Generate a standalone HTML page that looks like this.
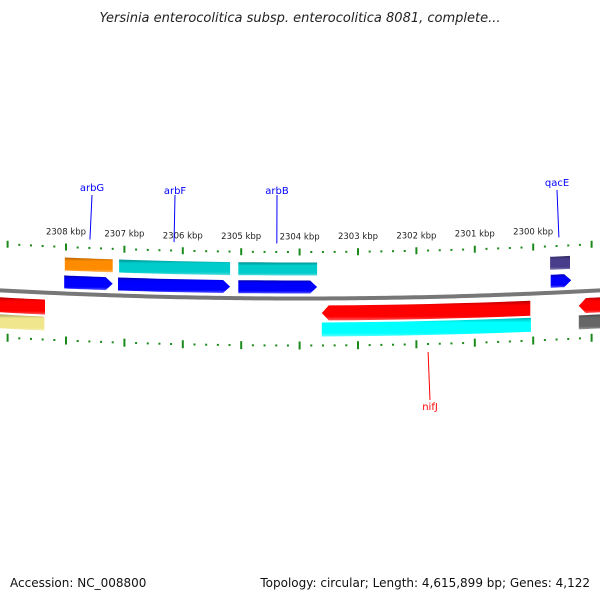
<!DOCTYPE html>
<html><head><meta charset="utf-8"><style>
body{margin:0;background:#fff;}
svg{display:block;font-family:"DejaVu Sans","Liberation Sans",sans-serif;}
</style></head><body>
<svg id="map" width="600" height="600" viewBox="0 0 600 600">
<defs></defs>
<text x="300" y="22" text-anchor="middle" font-size="13" font-style="italic" fill="#222">Yersinia enterocolitica subsp. enterocolitica 8081, complete...</text>
<text x="10" y="587" font-size="12" fill="#111">Accession: NC_008800</text>
<text x="590" y="587" text-anchor="end" font-size="12" fill="#111">Topology: circular; Length: 4,615,899 bp; Genes: 4,122</text>
<g id="layer"></g>
</svg>
<script>
// data (kbp)
const tickKbp=[2309,2308,2307,2306,2305,2304,2303,2302,2301,2300,2299];
const tickLabels=["","2308 kbp","2307 kbp","2306 kbp","2305 kbp","2304 kbp","2303 kbp","2302 kbp","2301 kbp","2300 kbp",""];
const featNames=["orange-cds","teal-1","teal-2","purple-cds","blue-arbG","blue-arbF","blue-arbB","blue-qacE","red-left","red-nifJ","red-right","khaki-left","cyan-nifJ","gray-right"];
const featStart=[2308.02,2307.09,2305.05,2299.71,2308.03,2307.11,2305.05,2299.70,2309.2,2303.62,2299.22,2309.2,2303.62,2299.22];
const featEnd=[2307.20,2305.19,2303.70,2299.37,2307.20,2305.19,2303.70,2299.35,2308.36,2300.05,2298.8,2308.37,2300.04,2298.8];
const featColor=["#ff8c00","#00cccc","#00cccc","#483d8b","#0000ff","#0000ff","#0000ff","#0000ff","#ff0000","#ff0000","#ff0000","#f0e68c","#00ffff","#666666"];
const featRow=[0,0,0,0,1,1,1,1,2,2,2,3,3,3];
const featDir=[0,0,0,0,1,1,1,1,0,-1,-1,0,0,0];
const labelNames=["arbG","arbF","arbB","qacE","nifJ"];
const labelKbp=[2307.59,2306.15,2304.39,2299.56,2301.80];
const labelSide=[-1,-1,-1,-1,1];
const labelX=[92,175,277,557,430];

const X0=66, PX=58.4;
function xOf(k){return X0+(2308-k)*PX;}
function by(x){return 298.5-(x-300)*(x-300)/11000;}
const rows=[[-36,-23],[-18,-5],[7,22],[24,38]];
const svg=document.getElementById('map'), L=document.getElementById('layer'), NS="http://www.w3.org/2000/svg";
function mk(t,a){const e=document.createElementNS(NS,t);for(const k in a)e.setAttribute(k,a[k]);L.appendChild(e);return e;}
function shade(c,f){const n=parseInt(c.slice(1),16);let r=n>>16,g=(n>>8)&255,b=n&255;
 const m=v=>Math.max(0,Math.min(255,Math.round(f<0?v*(1+f):v+(255-v)*f)));return `rgb(${m(r)},${m(g)},${m(b)})`;}
let bp="";for(let x=-5;x<=605;x+=5)bp+=(x==-5?"M":"L")+x+","+by(x).toFixed(2);
const bb=mk('path',{d:bp,stroke:"#777",'stroke-width':4,fill:"none"});


for(let k=2309;k>=2298.8;k-=0.2){
 const kk=Math.round(k*10)/10, x=xOf(kk); if(x<0||x>600)continue;
 const major=Math.abs(kk-Math.round(kk))<0.01;
 const y=by(x);
 [[-50,-43],[43,51]].forEach((o,i)=>{
  const t=mk('line',major?{x1:x,x2:x,y1:y+o[0],y2:y+o[1]}:{x1:x,x2:x,y1:y+(o[0]+o[1])/2-1,y2:y+(o[0]+o[1])/2+1});
  t.setAttribute('stroke','#1a8a1a');t.setAttribute('stroke-width',2);
  
  
 });
}
tickKbp.forEach((k,i)=>{if(!tickLabels[i])return;const x=xOf(k);
 const t=mk('text',{x:x,y:by(x)-59,'text-anchor':'middle','font-size':8.5,fill:'#222'});t.textContent=tickLabels[i];
 
 });
featNames.forEach((n,i)=>{
 let x1=xOf(featStart[i]),x2=xOf(featEnd[i]);const r=rows[featRow[i]];
 const gid='g'+i;const g=document.createElementNS(NS,'linearGradient');g.setAttribute('id',gid);g.setAttribute('x1',0);g.setAttribute('y1',0);g.setAttribute('x2',0);g.setAttribute('y2',1);
 [[0,shade(featColor[i],-0.3)],[0.25,featColor[i]],[0.8,featColor[i]],[1,shade(featColor[i],0.35)]].forEach(s=>{const st=document.createElementNS(NS,'stop');st.setAttribute('offset',s[0]);st.setAttribute('stop-color',s[1]);g.appendChild(st);});
 svg.querySelector('defs').appendChild(g);
 const ah=7,mid=(r[0]+r[1])/2;let pts=[];
 const a=featDir[i]<0?x1+ah:x1, b=featDir[i]>0?x2-ah:x2;
 if(featDir[i]<0)pts.push([x1,by(x1)+mid]);
 for(let s=0;s<=8;s++){const x=a+(b-a)*s/8;pts.push([x,by(x)+r[0]]);}
 if(featDir[i]>0)pts.push([x2,by(x2)+mid]);
 for(let s=8;s>=0;s--){const x=a+(b-a)*s/8;pts.push([x,by(x)+r[1]]);}
 const p=mk('polygon',{points:pts.map(q=>q[0].toFixed(1)+','+q[1].toFixed(1)).join(' '),fill:`url(#${gid})`});
 
 
});
labelNames.forEach((n,i)=>{const x=xOf(labelKbp[i]);const col=labelSide[i]<0?'#0000ff':'#ff0000';
 let y1,y2,ty;
 if(labelSide[i]<0){y1=by(x)-55;y2=i==3?190:195;ty=i==3?186:i==0?191:194;}else{y1=by(x)+55;y2=400;ty=410;}
 const l=mk('line',{x1:x,y1:y1,x2:labelX[i],y2:y2,stroke:col,'stroke-width':1});
 
 
 const t=mk('text',{x:labelX[i],y:ty,'text-anchor':'middle','font-size':10,fill:col});t.textContent=n;
 
 
});
</script>
</body></html>
